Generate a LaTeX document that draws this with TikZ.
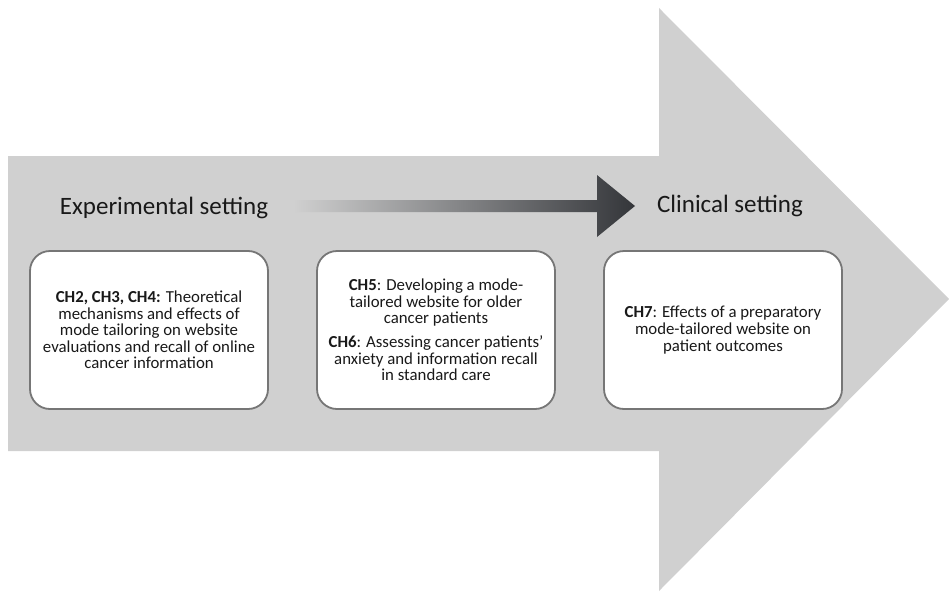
\documentclass[tikz,border=0pt]{standalone}
\usepackage{fontspec}
\setmainfont{Carlito}
\definecolor{arrowgray}{RGB}{208,208,208}
\definecolor{boxline}{RGB}{118,118,118}
\definecolor{darkhead}{RGB}{52,54,58}
\begin{document}
\begin{tikzpicture}[x=1pt, y=-1pt,
    chbox/.style={draw=boxline, line width=1.8pt, fill=white, rounded corners=20pt,
      minimum width=238pt, minimum height=158pt, align=center, text=black!90,
      font=\fontsize{16.8}{16.6}\selectfont},
    heading/.style={font=\fontsize{25}{28}\selectfont, text=black!90}]
  \useasboundingbox (0,0) rectangle (949,594);
  \fill[arrowgray] (8,156) -- (659,156) -- (659,8) -- (949,299) -- (659,591)
    -- (659,451) -- (8,451) -- cycle;

  \node[heading] (exp) at (164,208) {Experimental setting};
  \node[heading] (clin) at (730,206) {Clinical setting};

  \coordinate (gs) at (293,206);
  \coordinate (ge) at (635,206);
  \shade[left color=arrowgray, right color=darkhead]
    ([yshift=6pt]gs) -- ([xshift=-38pt,yshift=6pt]ge) -- ([xshift=-38pt,yshift=31pt]ge)
    -- (ge) -- ([xshift=-38pt,yshift=-31pt]ge) -- ([xshift=-38pt,yshift=-6pt]ge)
    -- ([yshift=-6pt]gs) -- cycle;

  \node[chbox] (ch24) at (149,330) {\textbf{CH2, CH3, CH4:} Theoretical\\mechanisms and effects of\\mode tailoring on website\\evaluations and recall of online\\cancer information};
  \node[chbox] (ch56) at (436,330) {\textbf{CH5}: Developing a mode-\\tailored website for older\\cancer patients\\[7pt]\textbf{CH6}: Assessing cancer patients'\\anxiety and information recall\\in standard care};
  \node[chbox] (ch7) at (723,330) {\textbf{CH7}: Effects of a preparatory\\mode-tailored website on\\patient outcomes};
\end{tikzpicture}
\end{document}
